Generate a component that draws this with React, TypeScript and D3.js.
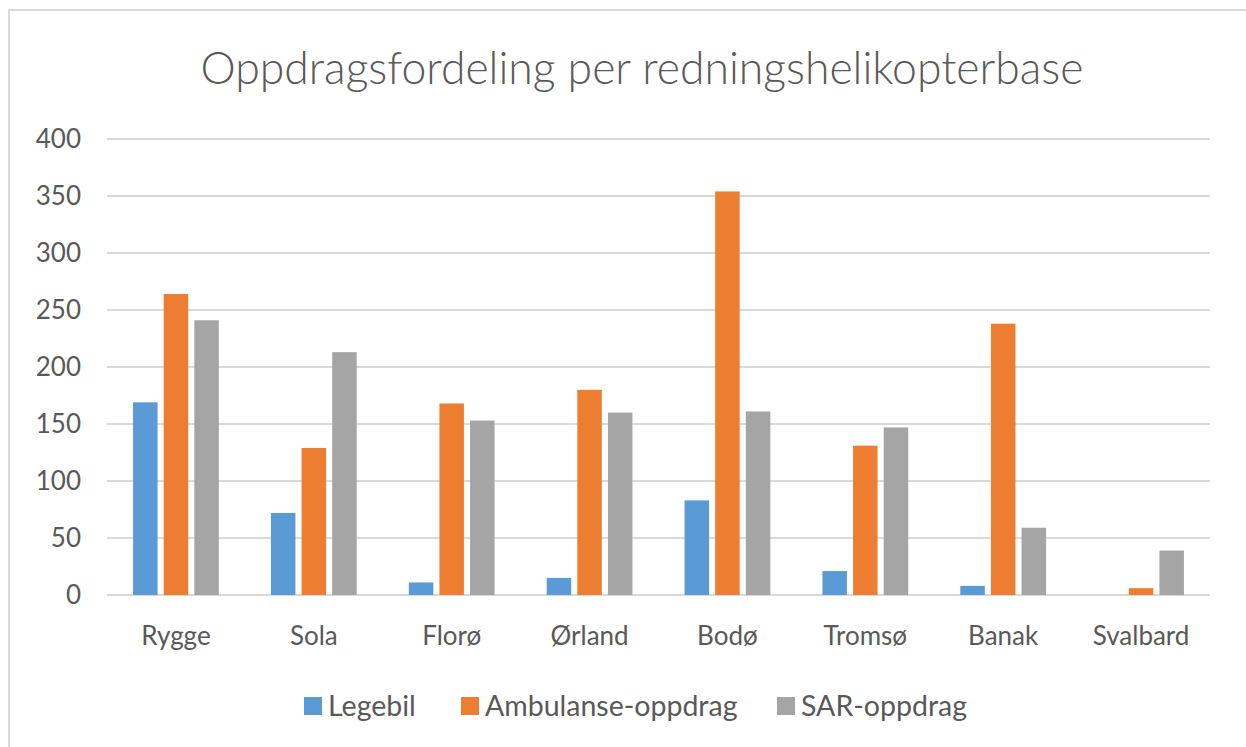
import { scaleBand, scaleLinear } from 'd3'

const categories = ['Rygge', 'Sola', 'Florø', 'Ørland', 'Bodø', 'Tromsø', 'Banak', 'Svalbard']
const seriesNames = ['Legebil', 'Ambulanse-oppdrag', 'SAR-oppdrag']
const legebil = [169, 72, 11, 15, 83, 21, 8, 0]
const ambulanse = [264, 129, 168, 180, 354, 131, 238, 6]
const sar = [241, 213, 153, 160, 161, 147, 59, 39]
const yTickValues = [0, 50, 100, 150, 200, 250, 300, 350, 400]
const title = 'Oppdragsfordeling per redningshelikopterbase'

const colors = ['#5B9BD5', '#ED7D31', '#A5A5A5']
const seriesValues = [legebil, ambulanse, sar]

const width = 1246
const height = 747
const plot = { left: 107, right: 1210, top: 139, bottom: 595 }
const font = 'Lato, "Open Sans", sans-serif'
const textColor = '#595959'
const legendX = [304, 461, 777]

const App = () => {
  const x = scaleBand<string>()
    .domain(categories)
    .range([plot.left, plot.right])
    .paddingInner(0.378)
    .paddingOuter(0.189)

  const xInner = scaleBand<string>()
    .domain(seriesNames)
    .range([0, x.bandwidth()])
    .paddingInner(0.2)

  const y = scaleLinear().domain([0, 400]).range([plot.bottom, plot.top])

  return (
    <div style={{ position: 'absolute', left: 0, top: 0 }}>
      <svg width={width} height={height} viewBox={`0 0 ${width} ${height}`} style={{ display: 'block', background: 'white' }}>
        <rect x={9} y={10} width={width + 20} height={height + 20} fill="white" stroke="#D9D9D9" strokeWidth={2} />

        <text
          x={642}
          y={84}
          textAnchor="middle"
          fontFamily={font}
          fontSize={44.5}
          fontWeight={300}
          fill={textColor}
        >
          {title}
        </text>

        {yTickValues.map((v) => (
          <g key={v}>
            <line x1={plot.left} x2={plot.right} y1={y(v)} y2={y(v)} stroke="#D9D9D9" strokeWidth={2} />
            <text x={81} y={y(v)} dy="0.36em" textAnchor="end" fontFamily={font} fontSize={26} fill={textColor}>
              {v}
            </text>
          </g>
        ))}

        {categories.map((c, i) => (
          <g key={c} transform={`translate(${x(c)}, 0)`}>
            {seriesNames.map((s, j) => {
              const v = seriesValues[j][i]
              if (v <= 0) return null
              return (
                <rect
                  key={s}
                  x={xInner(s)}
                  y={y(v)}
                  width={xInner.bandwidth()}
                  height={y(0) - y(v)}
                  fill={colors[j]}
                />
              )
            })}
            <text
              x={x.bandwidth() / 2}
              y={645}
              textAnchor="middle"
              fontFamily={font}
              fontSize={26}
              fill={textColor}
            >
              {c}
            </text>
          </g>
        ))}

        {seriesNames.map((s, j) => (
          <g key={s} transform={`translate(${legendX[j]}, 706)`}>
            <rect x={0} y={-9} width={18} height={18} fill={colors[j]} />
            <text x={24} y={0} dy="0.36em" fontFamily={font} fontSize={28.5} fill={textColor}>
              {s}
            </text>
          </g>
        ))}
      </svg>
    </div>
  )
}

export default App
